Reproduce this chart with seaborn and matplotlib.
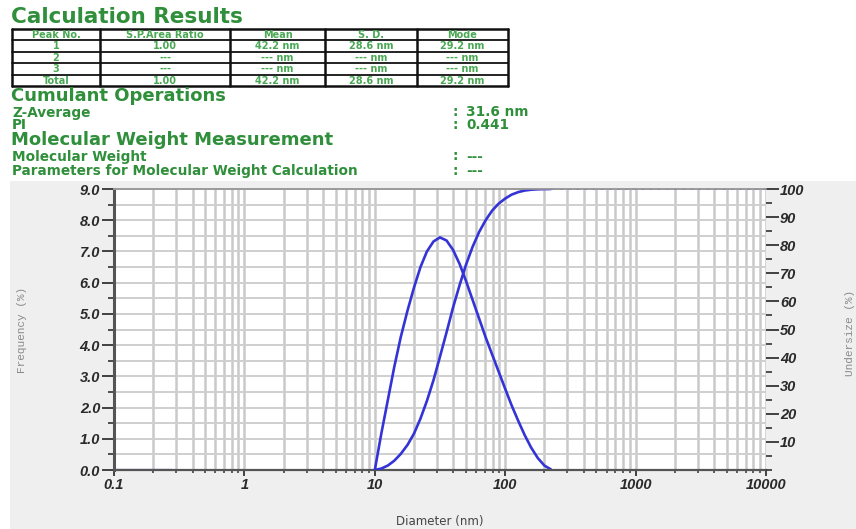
import matplotlib
matplotlib.use("Agg")
import matplotlib.pyplot as plt
import matplotlib.ticker as mticker
from matplotlib.font_manager import FontProperties
from matplotlib.lines import Line2D
from matplotlib.patches import Rectangle
import seaborn as sns
import pandas as pd

# ---- particle size distribution (diameter in nm) ----
diameter = [10.0, 11.2, 12.6, 14.1, 15.8, 17.8, 20.0, 22.4, 25.1, 28.2,
            31.6, 35.5, 39.8, 44.7, 50.1, 56.2, 63.1, 70.8, 79.4, 89.1,
            100.0, 112.0, 126.0, 141.0, 158.0, 178.0, 200.0, 224.0]
frequency = [0.0, 1.15, 2.25, 3.3, 4.25, 5.1, 5.85, 6.5, 7.0, 7.32,
             7.45, 7.35, 7.05, 6.6, 6.05, 5.45, 4.85, 4.25, 3.7, 3.15,
             2.6, 2.07, 1.57, 1.12, 0.72, 0.38, 0.14, 0.02]
undersize = [0.0, 0.5, 1.6, 3.3, 5.7, 8.9, 13.0, 18.3, 24.6, 32.0,
             40.3, 49.0, 57.8, 65.8, 73.1, 79.4, 84.7, 88.9, 92.3, 94.8,
             96.6, 98.0, 98.9, 99.45, 99.75, 99.9, 99.97, 100.0]

# empty channels outside the measured peak
zero_solid_d = [0.1, 0.28]
zero_dotted_low_d = [0.28, 10.0]
zero_dotted_high_d = [224.0, 10000.0]
full_dotted_d = [200.0, 10000.0]

x_ticks = [0.1, 1, 10, 100, 1000, 10000]
x_tick_labels = ["0.1", "1", "10", "100", "1000", "10000"]
freq_ticks = [0, 1, 2, 3, 4, 5, 6, 7, 8, 9]
under_ticks = [10, 20, 30, 40, 50, 60, 70, 80, 90, 100]

# ---- result tables ----
table_header = ["Peak No.", "S.P.Area Ratio", "Mean", "S. D.", "Mode"]
table_rows = [
    ["1", "1.00", "42.2 nm", "28.6 nm", "29.2 nm"],
    ["2", "---", "--- nm", "--- nm", "--- nm"],
    ["3", "---", "--- nm", "--- nm", "--- nm"],
    ["Total", "1.00", "42.2 nm", "28.6 nm", "29.2 nm"],
]
cumulant_items = [("Z-Average", "31.6 nm"), ("PI", "0.441")]
mw_items = [("Molecular Weight", "---"),
            ("Parameters for Molecular Weight Calculation", "---")]

W, H = 856, 529
GREEN = "#2f8f3a"
CELL_GREEN = "#4aa854"
BLUE = "#3434d6"

sns.set_theme(style="white")
plt.rcParams["font.family"] = ["DejaVu Sans"]

fig = plt.figure(figsize=(W / 100, H / 100), dpi=100)
fig.patch.set_facecolor("white")


def fx(px):
    return px / W


def fy(py):
    return 1 - py / H


# gray panel behind the graph
fig.add_artist(Rectangle((fx(10), 0), 1 - fx(10), fy(181), transform=fig.transFigure,
                         facecolor="#efefef", edgecolor="none", zorder=0))

# ---- header texts ----
fig.text(fx(11), fy(17), "Calculation Results", color=GREEN, fontsize=15.5,
         fontweight="bold", va="center", ha="left")

col_edges = [12, 100, 230, 325, 417, 508]
row_edges = [29, 40, 51.5, 63, 74.5, 86]
for i, yy in enumerate(row_edges):
    fig.add_artist(Line2D([fx(12), fx(508)], [fy(yy), fy(yy)], transform=fig.transFigure,
                          color="#111", lw=1.8 if i in (0, len(row_edges) - 1) else 1.3))
for xx in col_edges:
    fig.add_artist(Line2D([fx(xx), fx(xx)], [fy(29), fy(86)], transform=fig.transFigure,
                          color="#111", lw=1.8))
all_rows = [table_header] + table_rows
for r, row in enumerate(all_rows):
    yc = (row_edges[r] + row_edges[r + 1]) / 2
    for c, txt in enumerate(row):
        xc = (col_edges[c] + col_edges[c + 1]) / 2
        fig.text(fx(xc), fy(yc + 0.3), txt, color=CELL_GREEN, fontsize=7.0, ha="center",
                 va="center", fontweight="bold")

fig.text(fx(11), fy(95.5), "Cumulant Operations", color=GREEN, fontsize=13,
         fontweight="bold", va="center")
for (label, val), yy in zip(cumulant_items, [112.5, 125.5]):
    fig.text(fx(12), fy(yy), label, color=GREEN, fontsize=9.8, fontweight="bold", va="center")
    fig.text(fx(452), fy(yy), ":", color=GREEN, fontsize=9.8, fontweight="bold", va="center")
    fig.text(fx(466), fy(yy), val, color=GREEN, fontsize=9.8, fontweight="bold", va="center")

fig.text(fx(11), fy(140), "Molecular Weight Measurement", color=GREEN, fontsize=13,
         fontweight="bold", va="center")
for (label, val), yy in zip(mw_items, [156.5, 171]):
    fig.text(fx(12), fy(yy), label, color=GREEN, fontsize=9.8, fontweight="bold", va="center")
    fig.text(fx(452), fy(yy), ":", color=GREEN, fontsize=9.8, fontweight="bold", va="center")
    fig.text(fx(466), fy(yy), val, color=GREEN, fontsize=9.8, fontweight="bold", va="center")

# ---- graph ----
ax = fig.add_axes([fx(114), fy(470), fx(766) - fx(114), fy(189) - fy(470)])
ax.set_facecolor("white")
ax.set_xscale("log")
ax.set_xlim(0.1, 10000)
ax.set_ylim(0, 9)
ax.xaxis.set_major_locator(mticker.FixedLocator(x_ticks))
ax.xaxis.set_minor_locator(mticker.LogLocator(base=10, subs=range(2, 10), numticks=50))
ax.xaxis.set_minor_formatter(mticker.NullFormatter())
ax.set_xticklabels(x_tick_labels)
ax.set_yticks(freq_ticks)
ax.set_yticklabels([f"{v:.1f}" for v in freq_ticks])
ax.yaxis.set_minor_locator(mticker.MultipleLocator(0.5))
ax.grid(True, which="both", axis="x", color="#c9c9c9", lw=1.8, zorder=0)
ax.grid(True, which="both", axis="y", color="#cfcfcf", lw=1.4, zorder=0)
ax.set_axisbelow(True)

df = pd.DataFrame({"diameter": diameter, "frequency": frequency, "undersize": undersize})
sns.lineplot(data=df, x="diameter", y="frequency", ax=ax, color=BLUE, lw=1.9,
             sort=False, estimator=None, zorder=3)

ax.plot(zero_solid_d, [0, 0], color=BLUE, lw=1.6, zorder=3)
ax.plot(zero_dotted_low_d, [0, 0], color=BLUE, lw=1.3, ls=(0, (1.5, 3)), zorder=3)
ax.plot(zero_dotted_high_d, [0, 0], color=BLUE, lw=1.3, ls=(0, (1.5, 3)), zorder=3)

tick_font = FontProperties(family="Liberation Sans", weight="bold", style="italic", size=10.5)
for lbl in ax.get_xticklabels() + ax.get_yticklabels():
    lbl.set_fontproperties(tick_font)
    lbl.set_color("#2a2a2a")
ax.tick_params(axis="y", which="major", direction="out", length=9, width=1.3,
               color="#333", pad=1, left=True)
ax.tick_params(axis="y", which="minor", direction="out", length=4, width=1.2,
               color="#333", left=True)
ax.tick_params(axis="x", which="major", direction="out", length=4, width=1.3,
               color="#333", pad=2, bottom=True)
ax.tick_params(axis="x", which="minor", direction="out", length=2.5, width=1.2,
               color="#444", bottom=True)

for sp in ax.spines.values():
    sp.set_zorder(5)
ax.spines["left"].set_color("#555")
ax.spines["left"].set_linewidth(2.2)
ax.spines["bottom"].set_color("#555")
ax.spines["bottom"].set_linewidth(1.6)
ax.spines["top"].set_color("#9a9a9a")
ax.spines["top"].set_linewidth(1.2)
ax.spines["right"].set_visible(False)

ax2 = ax.twinx()
ax2.set_ylim(0, 100)
ax2.set_yticks(under_ticks)
ax2.set_yticklabels([str(v) for v in under_ticks])
ax2.yaxis.set_minor_locator(mticker.MultipleLocator(5))
ax2.grid(False)
sns.lineplot(data=df, x="diameter", y="undersize", ax=ax2, color=BLUE, lw=1.9,
             sort=False, estimator=None, zorder=3)
ax2.plot(full_dotted_d, [100, 100], color=BLUE, lw=1.3, ls=(0, (1.5, 3)), zorder=3)
ax2.set_xlim(0.1, 10000)
for lbl in ax2.get_yticklabels():
    lbl.set_fontproperties(tick_font)
    lbl.set_color("#2a2a2a")
ax2.tick_params(axis="y", which="major", direction="out", length=9, width=1.3,
                color="#333", pad=1, right=True)
ax2.tick_params(axis="y", which="minor", direction="out", length=4, width=1.2,
                color="#333", right=True)
for name, sp in ax2.spines.items():
    sp.set_visible(name == "top")
ax2.spines["top"].set_color("#9a9a9a")
ax2.spines["top"].set_linewidth(1.2)
ax2.spines["top"].set_zorder(5)
ax2.set_ylabel("")
ax.set_ylabel("")
ax.set_xlabel("")

fig.text(fx(22), fy(330), "Frequency (%)", rotation=90, color="#8a8a8a", fontsize=8,
         family="Liberation Mono", va="center", ha="center")
fig.text(fx(850), fy(333), "Undersize (%)", rotation=90, color="#8a8a8a", fontsize=8,
         family="Liberation Mono", va="center", ha="center")
fig.text(fx(440), fy(521), "Diameter (nm)", color="#444", fontsize=8.5,
         va="center", ha="center")

fig.savefig("out.png", dpi=100)
